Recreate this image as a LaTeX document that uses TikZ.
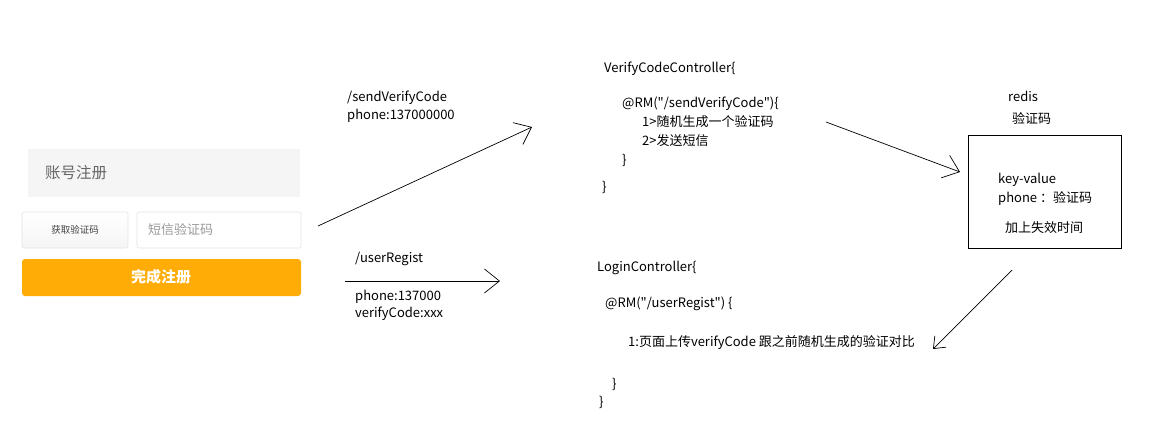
\documentclass[tikz,border=0pt]{standalone}
\usepackage{fontspec}
\setmainfont{Noto Sans CJK SC}[Ligatures=TeXOff]
\usetikzlibrary{arrows.meta}
\definecolor{formgray}{HTML}{F5F5F5}
\definecolor{lineg}{HTML}{E3E3E3}
\definecolor{btnorange}{HTML}{FFAC07}
\definecolor{txtgray}{HTML}{666666}
\definecolor{phgray}{HTML}{9A9A9A}
\tikzset{
  txt/.style={anchor=base west, inner sep=0pt, font=\fontsize{13}{15}\selectfont, text=black},
  arr/.style={draw=black, line width=0.7pt, -{Straight Barb[length=15pt,width=24pt,line width=0.7pt]}},
  smallarr/.style={draw=black, line width=0.7pt, -{Straight Barb[length=10pt,width=16pt,line width=0.7pt]}},
  field/.style={draw=lineg, line width=0.6pt, rounded corners=2pt},
}
\begin{document}
\begin{tikzpicture}[x=1pt,y=-1pt]
\useasboundingbox (0,0) rectangle (1154,429);
% form
\fill[formgray] (28,149) rectangle (300,197);
\node[anchor=west, inner sep=0pt, text=txtgray, font=\fontsize{15.5}{17}\selectfont] (acct) at (45,173) {账号注册};
\shade[top color=white, bottom color=formgray, draw=lineg, line width=0.6pt, rounded corners=2pt] (22,212) rectangle (128,248);
\node[inner sep=0pt, text=black!75, font=\fontsize{9.5}{11}\selectfont] (getcode) at (75,230) {获取验证码};
\path[field, fill=white] (137,212) rectangle (301,248);
\node[anchor=west, inner sep=0pt, text=phgray, font=\fontsize{13}{15}\selectfont] (smscode) at (148,230) {短信验证码};
\fill[btnorange, rounded corners=3pt] (22,259) rectangle (301,296);
\node[inner sep=0pt, text=white, font=\fontsize{15}{17}\selectfont\bfseries] (submit) at (161,277) {完成注册};
% labels for requests
\node[txt] (l1) at (347,101) {/sendVerifyCode};
\node[txt] (l2) at (347,119) {phone:137000000};
\node[txt] (l3) at (355,262) {/userRegist};
\node[txt] (l4) at (355,300) {phone:137000};
\node[txt] (l5) at (355,317) {verifyCode:xxx};
% verify controller
\node[txt] (v1) at (604,72) {VerifyCodeController\{};
\node[txt] (v2) at (622,107) {@RM("/sendVerifyCode")\{};
\node[txt] (v3) at (642,126) {1>随机生成一个验证码};
\node[txt] (v4) at (642,145) {2>发送短信};
\node[txt] (v5) at (622,164) {\}};
\node[txt] (v6) at (602,191) {\}};
% redis
\node[txt] (r1) at (1008,101) {redis};
\node[txt] (r2) at (1012,123) {验证码};
\node[draw=black, line width=0.7pt, minimum width=153pt, minimum height=113pt, inner sep=0pt] (box) at (1044.5,191.5) {};
\node[txt] (k1) at (998,183) {key-value};
\node[txt] (k2) at (998,202) {phone ：验证码};
\node[txt] (k3) at (1005,232) {加上失效时间};
% login controller
\node[txt] (c1) at (597,271) {LoginController\{};
\node[txt] (c2) at (605,307) {@RM("/userRegist") \{};
\node[txt] (c3) at (628,346) {1:页面上传verifyCode 跟之前随机生成的验证对比};
\node[txt] (c4) at (612,388) {\}};
\node[txt] (c5) at (599,406) {\}};
% arrow endpoints
\coordinate (a1s) at (318,226);
\coordinate (a1e) at (532,127);
\coordinate (a2s) at (345,281);
\coordinate (a2e) at (500,281);
\coordinate (a3s) at (826,122);
\coordinate (a3e) at (960,172);
\coordinate (a4s) at (1012,270);
\coordinate (a4e) at (933,349);
\draw[arr] (a1s) -- (a1e);
\draw[arr] (a2s) -- (a2e);
\draw[arr] (a3s) -- (a3e);
\draw[smallarr] (a4s) -- (a4e);
\end{tikzpicture}
\end{document}
